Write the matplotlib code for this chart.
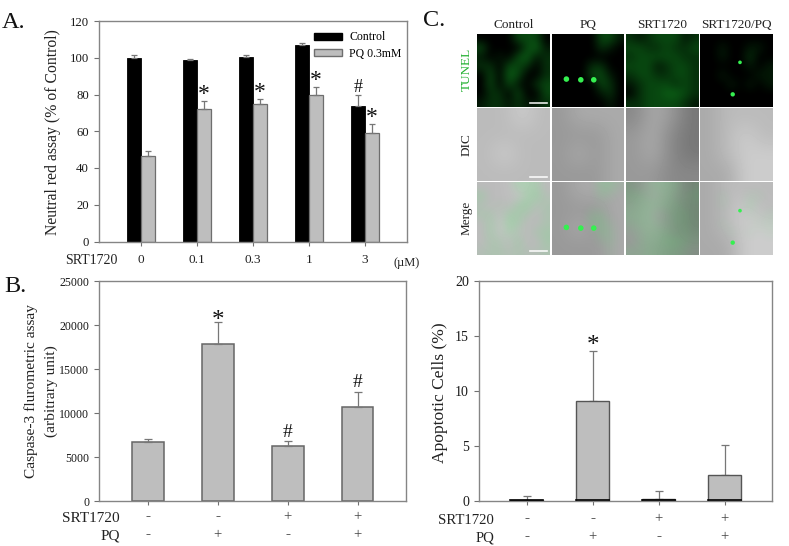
import numpy as np
import matplotlib
matplotlib.use("Agg")
import matplotlib.pyplot as plt
from matplotlib.colors import LinearSegmentedColormap
from matplotlib.patches import Patch

plt.rcParams['font.family'] = ['Liberation Serif', 'DejaVu Serif']

W, H = 789, 546

# panel A
doses = ["0", "0.1", "0.3", "1", "3"]
control = [100, 99, 100.5, 107, 74]
control_err = [1.3, 0.5, 1.0, 1.0, 5.7]
pq = [46.7, 72.3, 75, 79.7, 59.3]
pq_err = [2.3, 4.2, 2.7, 4.3, 4.5]

# panel B
caspase = [6700, 17800, 6300, 10650]
caspase_err = [350, 2500, 500, 1750]

# panel D
apoptotic = [0.1, 9.05, 0.2, 2.35]
apoptotic_err = [0.3, 4.55, 0.7, 2.7]

srt_signs = ["-", "-", "+", "+"]
pq_signs = ["-", "+", "-", "+"]

col_names = ["Control", "PQ", "SRT1720", "SRT1720/PQ"]
row_names = ["TUNEL", "DIC", "Merge"]
green = [
    ["00003330", "30000341", "10103412", "22033202", "03043002", "03031023", "02203003", "12212112"],
    ["00000331", "00000210", "00000000", "00002200", "00003310", "00000320", "00000120", "00000010"],
    ["21233312", "33223223", "23333322", "33312332", "23322332", "12333232", "02334432", "22333321"],
    ["00000000", "00100110", "00100200", "00000101", "00100011", "00010101", "00000000", "00000000"],
]
dic = [
    ["bbcb", "bbbb", "bcbb", "bbbb"],
    ["9aaa", "999a", "9a9a", "999a"],
    ["8a97", "9a87", "9a87", "9988"],
    ["abbb", "abcb", "abcc", "aacc"],
]
dots_x = [[], [0.2, 0.4, 0.58], [], [0.55, 0.45]]
dots_y = [[], [0.62, 0.63, 0.63], [], [0.39, 0.83]]
dots_size = [[], [16, 16, 16], [], [7, 10]]


def px_axes(left, top, right, bottom):
    return fig.add_axes([left / W, 1 - bottom / H, (right - left) / W, (bottom - top) / H])


def fig_text(x, y, s, **kw):
    kw.setdefault("ha", "left")
    kw.setdefault("va", "center")
    fig.text(x / W, 1 - y / H, s, **kw)


def style(ax, size):
    for s in ax.spines.values():
        s.set_color("#858585")
        s.set_linewidth(1.0)
    ax.tick_params(axis="y", length=3.5, width=0.8, color="#707070", labelsize=size, pad=4, labelcolor="#1a1a1a")
    ax.tick_params(axis="x", length=3, width=0.8, color="#707070", labelbottom=False)


def signs_row(ax, xs, y_px, signs):
    for x, s in zip(xs, signs):
        disp = ax.transData.transform((x, 0))[0]
        if s == "-":
            fig_text(disp, y_px, s, ha="center", fontsize=11, fontweight="bold", color="#333333")
        else:
            fig_text(disp, y_px, s, ha="center", fontsize=10.5, color="#444444")


def mark(ax, x, y, s, size=15):
    ax.text(x, y, s, ha="center", va="center", fontsize=size, color="#111111")


fig = plt.figure(figsize=(W / 100, H / 100), dpi=100)

# A
ax = px_axes(99.5, 21, 407, 241.5)
x = np.arange(len(doses))
bw = 0.25
ax.bar(x - bw / 2, control, bw, color="black", edgecolor="black", linewidth=0.6, label="Control")
ax.bar(x + bw / 2, pq, bw, color="#bebebe", edgecolor="#6e6e6e", linewidth=0.9, label="PQ 0.3mM")
ax.errorbar(x - bw / 2, control, yerr=[np.zeros(5), control_err], fmt="none", ecolor="#777777", elinewidth=0.9, capsize=2.5, capthick=0.9)
ax.errorbar(x + bw / 2, pq, yerr=[np.zeros(5), pq_err], fmt="none", ecolor="#777777", elinewidth=0.9, capsize=2.5, capthick=0.9)
ax.set_xlim(-0.741, 4.75)
ax.set_ylim(0, 120)
ax.set_xticks(x)
ax.set_yticks(range(0, 121, 20))
style(ax, 9.2)
for i in range(1, 5):
    mark(ax, i + bw / 2, pq[i] + pq_err[i] + 3.5, "*", 17)
mark(ax, 4 - bw / 2, control[4] + control_err[4] + 4, "#", 13)
ax.legend(handles=[Patch(facecolor="black", edgecolor="black", label="Control"),
                   Patch(facecolor="#bebebe", edgecolor="#6e6e6e", label="PQ 0.3mM")],
          loc="upper left", bbox_to_anchor=(0.672, 0.99), frameon=False, fontsize=8.5,
          handlelength=2.35, handleheight=0.55, handletextpad=0.6, labelspacing=0.35, borderpad=0.2)
fig_text(53, 132, "Neutral red assay (% of Control)", rotation=90, ha="center", fontsize=11.3, color="#222222")
fig_text(65, 260, "SRT1720", fontsize=10, color="#222222")
for i, d in enumerate(doses):
    fig_text(ax.transData.transform((i, 0))[0], 260, d, ha="center", fontsize=9.5, color="#222222")
fig_text(393, 263, "(\u00b5M)", fontsize=9, color="#222222")
fig_text(2, 22, "A.", fontsize=17.5, color="#111111")

# B
ax = px_axes(99.5, 281, 406.5, 501)
x = np.arange(4)
bw = 0.454
ax.bar(x, caspase, bw, color="#bebebe", edgecolor="#666666", linewidth=1.1)
ax.errorbar(x, caspase, yerr=[np.zeros(4), caspase_err], fmt="none", ecolor="#777777", elinewidth=0.9, capsize=3, capthick=0.9)
ax.set_xlim(-0.695, 3.70)
ax.set_ylim(0, 25000)
ax.set_xticks(x)
ax.set_yticks(range(0, 25001, 5000))
style(ax, 8.6)
mark(ax, 1, 20500, "*", 18)
mark(ax, 2, 7800, "#", 14)
mark(ax, 3, 13500, "#", 14)
fig_text(31, 391, "Caspase-3 flurometric assay", rotation=90, ha="center", fontsize=11.1, color="#222222")
fig_text(51, 391, "(arbitrary unit)", rotation=90, ha="center", fontsize=11.1, color="#222222")
fig_text(120, 518, "SRT1720", ha="right", fontsize=11, color="#222222")
fig_text(120, 536, "PQ", ha="right", fontsize=11, color="#222222")
signs_row(ax, x, 517, srt_signs)
signs_row(ax, x, 535, pq_signs)
fig_text(4, 287, "B.", fontsize=17.5, color="#111111")

# D
ax = px_axes(479.3, 281, 771.7, 500.7)
bw = 0.505
ax.errorbar(x, apoptotic, yerr=[np.zeros(4), apoptotic_err], fmt="none", ecolor="#777777", elinewidth=0.9, capsize=3, capthick=0.9)
ax.bar(x, apoptotic, bw, color="#bebebe", edgecolor="#555555", linewidth=1.0, zorder=3)
for xi in x:
    ax.plot([xi - bw / 2, xi + bw / 2], [0.05, 0.05], color="black", linewidth=1.2, zorder=4)
ax.set_xlim(-0.718, 3.71)
ax.set_ylim(0, 20)
ax.set_xticks(x)
ax.set_yticks(range(0, 21, 5))
style(ax, 10)
mark(ax, 1, 14.1, "*", 18)
fig_text(440, 393, "Apoptotic Cells (%)", rotation=90, ha="center", fontsize=12.6, color="#222222")
fig_text(494, 520, "SRT1720", ha="right", fontsize=10.6, color="#222222")
fig_text(494, 538, "PQ", ha="right", fontsize=10.6, color="#222222")
signs_row(ax, x, 519, srt_signs)
signs_row(ax, x, 537, pq_signs)

# C
fig_text(423, 21, "C.", fontsize=17.5, color="#111111")
col_left = [477.3, 552, 626, 700]
col_right = [550, 624, 698.3, 772.7]
row_top = [34, 108.3, 182.3]
row_bottom = [106.7, 180.7, 255]
green_cmap = LinearSegmentedColormap.from_list("g", ["black", "#0c6a18", "#30ff40"])
green_over = LinearSegmentedColormap.from_list("go", [(0.3, 0.95, 0.4, 0), (0.3, 0.95, 0.4, 0.9)])
for c in range(4):
    g = np.array([[int(ch) for ch in r] for r in green[c]], dtype=float)
    d = np.array([[int(ch, 16) for ch in r] for r in dic[c]], dtype=float) / 15
    for r in range(3):
        ax = px_axes(col_left[c], row_top[r], col_right[c], row_bottom[r])
        ax.set_axis_off()
        if r == 0:
            ax.imshow(g, cmap=green_cmap, vmin=0, vmax=9, extent=(0, 1, 1, 0), interpolation="bicubic", aspect="auto")
        else:
            ax.imshow(d, cmap="gray", vmin=0, vmax=1, extent=(0, 1, 1, 0), interpolation="bicubic", aspect="auto")
        if r == 2:
            ax.imshow(g, cmap=green_over, vmin=0, vmax=14, extent=(0, 1, 1, 0), interpolation="bicubic", aspect="auto")
        if r != 1 and dots_x[c]:
            ax.scatter(dots_x[c], dots_y[c], s=dots_size[c], color="#35f050", linewidths=0)
        if c == 0:
            ax.plot([0.72, 0.96], [0.95, 0.95], color="white", linewidth=1.2, alpha=0.9)
        ax.set_xlim(0, 1)
        ax.set_ylim(1, 0)
    fig_text((col_left[c] + col_right[c]) / 2, 25.5, col_names[c], ha="center", fontsize=9.5, color="#222222")
fig_text(467, 69, row_names[0], rotation=90, ha="center", fontsize=9.5, color="#22b030")
fig_text(467, 145, row_names[1], rotation=90, ha="center", fontsize=9.5, color="#222222")
fig_text(467, 218, row_names[2], rotation=90, ha="center", fontsize=9.5, color="#222222")

fig.savefig("out.png", dpi=100)
